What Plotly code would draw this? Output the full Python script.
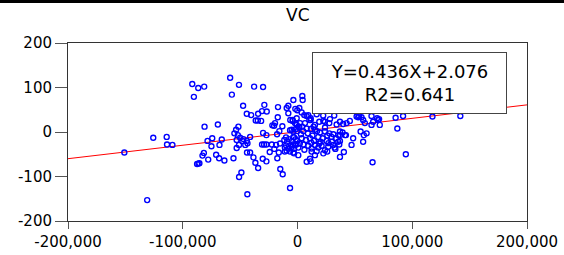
import plotly.graph_objects as go

# ---- data ----
x_vals = [
    -150900, -131000, -125700, -114000, -113700, -109000, -91700, -86500, -81300, -90300,
    -81000, -69400, -74300, -78400, -66000, -75000, -68000, -81600, -82800, -86300,
    -87500, -85500, -77800, -70900, -68300, -63700, -55800, -58700, -51000, -57200,
    -47400, -44200, -51500, -53500, -55000, -52000, -50000, -53000, -48000, -45500,
    -51000, -53000, -44000, -48900, -50900, -43700, -40400, -37800, -30000, -36400,
    -34600, -31700, -34300, -30900, -26800, -28900, -21900, -20400, -17000, -17200,
    -9400, -8000, -3600, -1900, -200, 1600, -8000, -6300, -4200, -2200,
    -700, 1000, -13200, -47100, -44200, -41300, -43600, -30000, -27100, -30900,
    -29100, -27100, -22400, -18700, -15200, -41300, -38400, -36700, -34300, -30300,
    -27100, -24200, -20200, -16300, -17600, -15000, -12900, -6500,
    -11000, -9500, -8000, -6500, -10000, -5000, -3000, -1000, -11500, -9000,
    -7500, -5000, -3000, -1500, -4000, -6500, -3600, -200, -10000, -11100,
    -3600, 700, -17800, -15800, -19600,
    4200, 4500, 3600, 5900, 8000, 9400, 10300, 11500, 16700, 22400,
    23900, 28300, 32000, 39800, 42800,
    -4200, -700, 2200, 6500, 11500, 15200, 19000, 22500, 27700, 34100, 37000,
    -5100, -1300, 1600, 5100, 8000, 11700, 15200, 19600, 23900, 27700, 31200, 35500, 39300,
    -3600, -100, 3600, 7400, 10900, 14400, 18100, 21900, 25400, 29700, 33500, 37000, 41300,
    -2200, 700, 5100, 9400, 12300, 15200, 18100, 21000, 23900, 26800, 31200, 36400,
    -3000, 12300, 15200, 16700, 22500, 25900, 8000, 11500, 10900,
    3000, 9000, 13000, 17000, 20000, 26000, 30000, 6000, 2000, 19000, 27000, 33000, 12000, 4000, 14000, 24000,
    45600, 52900, 57200, 58700, 64500, 65900, 70300, 71700, 85500, 87000,
    37000, 42200, 48500, 55000, 57800, 60200, 57200, 47100, 40400, 37000, 65400,
    51500, 53700, 55800, 64500, 69400, 71100,
    92000, 117600, 141900, 94400,
    32300, 35500, 37000,
]
y_vals = [
    -46, -153, -13, -11, -28, -29, 108, 99, 102, 79,
    12, 17, -14, -20, -17, -32, -29, -47, -53, -71,
    -72, -70, -62, -51, -59, -64, -59, 122, 106, 84,
    59, 41, 12, 5, -3, -7, -13, -18, -20, -29,
    -29, -36, -46, -91, -101, -140, 38, 102, 101, 26,
    26, 25, 41, 47, 46, 61, 15, 14, 56, 33,
    54, 59, 72, 52, 49, 54, 42, 27, 25, 20,
    16, 12, 13, -16, -20, -11, -25, -2, -7, -28,
    -28, -28, -28, -29, -26, -46, -57, -69, -81, -60,
    -66, -45, -38, -46, -59, -83, -95, -126,
    -35, -42, -37, -44, -30, -33, -38, -28, -18, -22,
    -16, -20, -12, -16, -28, 4, 1, 2, -12, -44,
    -46, -52, -5, 2, 20,
    81, 72, 44, 38, 36, 38, 27, 31, 40, 37,
    23, 29, 37, 18, 20,
    27, 31, 20, 20, 27, 16, 23, 25, 20, 17, 23,
    5, 7, 10, 2, 8, 7, 5, -1, 1, -3, -5, -7, -1,
    -11, -20, -14, -18, -14, -20, -11, -14, -20, -11, -14, -20, -7,
    -29, -35, -28, -31, -37, -29, -35, -31, -41, -33, -29, -28,
    -48, -44, -52, -43, -48, -44, -67, -66, -60,
    -5, -3, -8, 2, -22, -8, -22, -40, -26, -26, -25, -38, -24, 12, 12, 10,
    25, 33, 27, 20, 16, 23, 27, 16, 32, 8,
    1, -7, -14, 1, -7, -3, -22, -29, -45, -56, -68,
    35, 36, 33, 36, 31, 29,
    36, 35, 36, -50,
    -35, -22, -7,
]

fit_x = [-200000, 200000]
fit_y = [-60, 61]

x_ticks = [-200000, -100000, 0, 100000, 200000]
x_tick_labels = ["-200,000", "-100,000", "0", "100,000", "200,000"]
y_ticks = [-200, -100, 0, 100, 200]
y_tick_labels = ["-200", "-100", "0", "100", "200"]

title_text = "VC"
box_text = "Y=0.436X+2.076<br>R2=0.641"

FONT = "DejaVu Sans"

fig = go.Figure()
fig.add_trace(go.Scatter(
    x=fit_x, y=fit_y, mode="lines",
    line=dict(color="#ff0000", width=1),
    hoverinfo="skip", showlegend=False,
))
fig.add_trace(go.Scatter(
    x=x_vals, y=y_vals, mode="markers",
    marker=dict(symbol="circle-open", size=5, color="#0000ff",
                line=dict(color="#0000ff", width=1.4)),
    showlegend=False,
))

axis_common = dict(
    showgrid=False, zeroline=False, showline=True, mirror=True, automargin=False,
    linecolor="#333333", linewidth=1, ticks="outside", tickcolor="#555555",
    tickfont=dict(family=FONT, size=15, color="#000000"),
)

fig.update_xaxes(
    range=[-200000, 200000], tickmode="array", tickvals=x_ticks,
    ticktext=x_tick_labels, ticklen=7, **axis_common,
)
fig.update_yaxes(
    range=[-200, 200], tickmode="array", tickvals=y_ticks,
    ticktext=y_tick_labels, ticklen=12, **axis_common,
)

fig.update_layout(
    width=564, height=255,
    margin=dict(l=68, r=37, t=43, b=34),
    plot_bgcolor="#ffffff", paper_bgcolor="#ffffff",
    hovermode=False,
    title=dict(text=title_text, x=0.528, xanchor="center", y=0.94, yanchor="middle",
               font=dict(family=FONT, size=17, color="#000000")),
    shapes=[dict(type="rect", xref="paper", yref="paper",
                 x0=-0.3, x1=1.3, y0=1.2247, y1=1.3,
                 fillcolor="#000000", line=dict(width=0))],
    annotations=[dict(
        text=box_text, xref="paper", yref="paper",
        x=0.5316, xanchor="left", y=0.9494, yanchor="top",
        showarrow=False, align="center", valign="middle",
        width=189, height=56, borderpad=2, borderwidth=1,
        bordercolor="#444444", bgcolor="#ffffff",
        font=dict(family=FONT, size=18, color="#000000"),
    )],
)

fig.write_html("out.html", config={"displayModeBar": False},
               post_script="document.body.style.margin='0px';document.body.style.overflow='hidden';")
